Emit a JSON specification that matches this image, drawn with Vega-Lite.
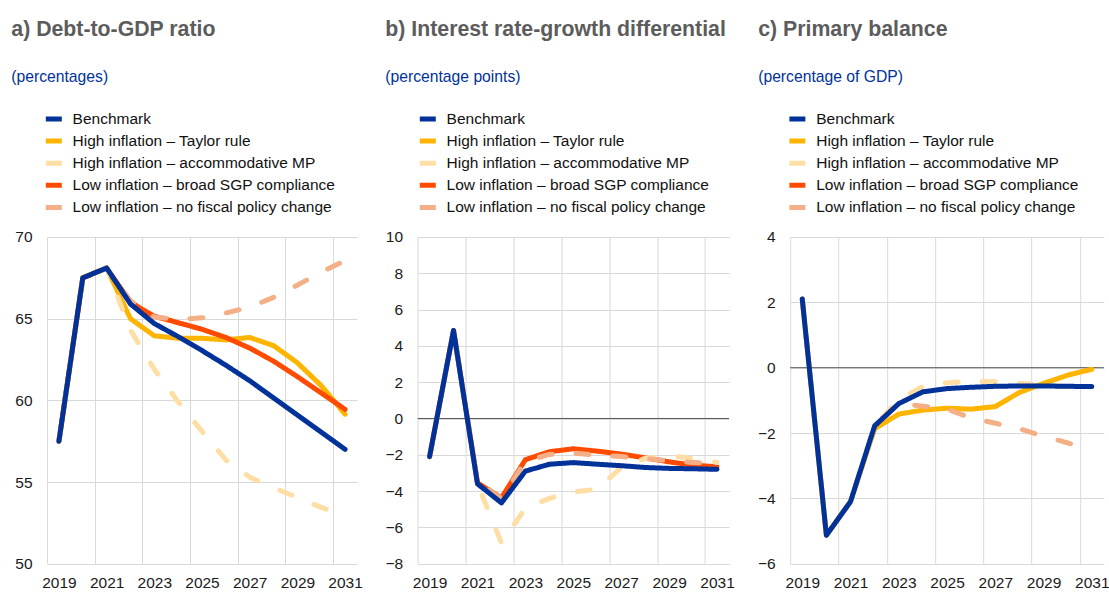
{
  "$schema": "https://vega.github.io/schema/vega-lite/v6.json",
  "background": "white",
  "padding": {"left": 11, "top": 19, "right": 0, "bottom": 0},
  "bounds": "flush",
  "spacing": 60.6,
  "config": {
    "font": "Liberation Sans",
    "view": {"stroke": null},
    "axis": {"labelFont": "Liberation Sans", "labelFontSize": 15.5, "labelColor": "#1a1a1a", "ticks": false, "domain": false, "gridColor": "#d9d9d9", "gridWidth": 1, "title": null, "labelOverlap": false},
    "legend": {"labelFont": "Liberation Sans", "labelFontSize": 15.5, "labelColor": "#111111", "labelLimit": 0, "symbolType": "stroke", "symbolSize": 256, "symbolStrokeWidth": 6, "symbolDash": [1, 0], "labelOffset": 8.3, "rowPadding": 3.1, "padding": 0, "title": null},
    "title": {"anchor": "start", "frame": "group", "font": "Liberation Sans", "fontSize": 21.3, "fontWeight": "bold", "color": "#5c5c5c", "subtitleFont": "Liberation Sans", "subtitleFontSize": 15.7, "subtitleColor": "#003299", "subtitlePadding": 29, "offset": 24},
    "line": {"strokeWidth": 5, "strokeCap": "round", "strokeJoin": "round"}
  },
  "data": {"values": [
    {"p":"a","s":"High inflation – Taylor rule","year":2019,"v":57.5},
    {"p":"a","s":"High inflation – Taylor rule","year":2020,"v":67.5},
    {"p":"a","s":"High inflation – Taylor rule","year":2021,"v":68.1},
    {"p":"a","s":"High inflation – Taylor rule","year":2022,"v":65.0},
    {"p":"a","s":"High inflation – Taylor rule","year":2023,"v":63.95},
    {"p":"a","s":"High inflation – Taylor rule","year":2024,"v":63.8},
    {"p":"a","s":"High inflation – Taylor rule","year":2025,"v":63.8},
    {"p":"a","s":"High inflation – Taylor rule","year":2026,"v":63.7},
    {"p":"a","s":"High inflation – Taylor rule","year":2027,"v":63.85},
    {"p":"a","s":"High inflation – Taylor rule","year":2028,"v":63.35},
    {"p":"a","s":"High inflation – Taylor rule","year":2029,"v":62.3},
    {"p":"a","s":"High inflation – Taylor rule","year":2030,"v":60.9},
    {"p":"a","s":"High inflation – Taylor rule","year":2031,"v":59.15},
    {"p":"a","s":"Low inflation – broad SGP compliance","year":2019,"v":57.5},
    {"p":"a","s":"Low inflation – broad SGP compliance","year":2020,"v":67.5},
    {"p":"a","s":"Low inflation – broad SGP compliance","year":2021,"v":68.1},
    {"p":"a","s":"Low inflation – broad SGP compliance","year":2022,"v":66.0},
    {"p":"a","s":"Low inflation – broad SGP compliance","year":2023,"v":65.15},
    {"p":"a","s":"Low inflation – broad SGP compliance","year":2024,"v":64.75},
    {"p":"a","s":"Low inflation – broad SGP compliance","year":2025,"v":64.35},
    {"p":"a","s":"Low inflation – broad SGP compliance","year":2026,"v":63.85},
    {"p":"a","s":"Low inflation – broad SGP compliance","year":2027,"v":63.2},
    {"p":"a","s":"Low inflation – broad SGP compliance","year":2028,"v":62.4},
    {"p":"a","s":"Low inflation – broad SGP compliance","year":2029,"v":61.45},
    {"p":"a","s":"Low inflation – broad SGP compliance","year":2030,"v":60.45},
    {"p":"a","s":"Low inflation – broad SGP compliance","year":2031,"v":59.45},
    {"p":"a","s":"High inflation – accommodative MP","year":2019,"v":57.5},
    {"p":"a","s":"High inflation – accommodative MP","year":2020,"v":67.5},
    {"p":"a","s":"High inflation – accommodative MP","year":2021,"v":68.1},
    {"p":"a","s":"High inflation – accommodative MP","year":2022,"v":64.3},
    {"p":"a","s":"High inflation – accommodative MP","year":2023,"v":61.9},
    {"p":"a","s":"High inflation – accommodative MP","year":2024,"v":59.9},
    {"p":"a","s":"High inflation – accommodative MP","year":2025,"v":58.1},
    {"p":"a","s":"High inflation – accommodative MP","year":2026,"v":56.35},
    {"p":"a","s":"High inflation – accommodative MP","year":2027,"v":55.3},
    {"p":"a","s":"High inflation – accommodative MP","year":2028,"v":54.65},
    {"p":"a","s":"High inflation – accommodative MP","year":2029,"v":54.05},
    {"p":"a","s":"High inflation – accommodative MP","year":2030,"v":53.45},
    {"p":"a","s":"High inflation – accommodative MP","year":2031,"v":52.9},
    {"p":"a","s":"Low inflation – no fiscal policy change","year":2019,"v":57.5},
    {"p":"a","s":"Low inflation – no fiscal policy change","year":2020,"v":67.5},
    {"p":"a","s":"Low inflation – no fiscal policy change","year":2021,"v":68.1},
    {"p":"a","s":"Low inflation – no fiscal policy change","year":2022,"v":66.1},
    {"p":"a","s":"Low inflation – no fiscal policy change","year":2023,"v":65.1},
    {"p":"a","s":"Low inflation – no fiscal policy change","year":2024,"v":64.95},
    {"p":"a","s":"Low inflation – no fiscal policy change","year":2025,"v":65.05},
    {"p":"a","s":"Low inflation – no fiscal policy change","year":2026,"v":65.35},
    {"p":"a","s":"Low inflation – no fiscal policy change","year":2027,"v":65.7},
    {"p":"a","s":"Low inflation – no fiscal policy change","year":2028,"v":66.3},
    {"p":"a","s":"Low inflation – no fiscal policy change","year":2029,"v":67.05},
    {"p":"a","s":"Low inflation – no fiscal policy change","year":2030,"v":67.85},
    {"p":"a","s":"Low inflation – no fiscal policy change","year":2031,"v":68.55},
    {"p":"a","s":"Benchmark","year":2019,"v":57.5},
    {"p":"a","s":"Benchmark","year":2020,"v":67.5},
    {"p":"a","s":"Benchmark","year":2021,"v":68.1},
    {"p":"a","s":"Benchmark","year":2022,"v":65.9},
    {"p":"a","s":"Benchmark","year":2023,"v":64.7},
    {"p":"a","s":"Benchmark","year":2024,"v":63.9},
    {"p":"a","s":"Benchmark","year":2025,"v":63.05},
    {"p":"a","s":"Benchmark","year":2026,"v":62.15},
    {"p":"a","s":"Benchmark","year":2027,"v":61.2},
    {"p":"a","s":"Benchmark","year":2028,"v":60.15},
    {"p":"a","s":"Benchmark","year":2029,"v":59.1},
    {"p":"a","s":"Benchmark","year":2030,"v":58.05},
    {"p":"a","s":"Benchmark","year":2031,"v":57.0},

    {"p":"b","s":"Low inflation – broad SGP compliance","year":2019,"v":-2.1},
    {"p":"b","s":"Low inflation – broad SGP compliance","year":2020,"v":4.85},
    {"p":"b","s":"Low inflation – broad SGP compliance","year":2021,"v":-3.55},
    {"p":"b","s":"Low inflation – broad SGP compliance","year":2022,"v":-4.37},
    {"p":"b","s":"Low inflation – broad SGP compliance","year":2023,"v":-2.27},
    {"p":"b","s":"Low inflation – broad SGP compliance","year":2024,"v":-1.83},
    {"p":"b","s":"Low inflation – broad SGP compliance","year":2025,"v":-1.67},
    {"p":"b","s":"Low inflation – broad SGP compliance","year":2026,"v":-1.8},
    {"p":"b","s":"Low inflation – broad SGP compliance","year":2027,"v":-1.96},
    {"p":"b","s":"Low inflation – broad SGP compliance","year":2028,"v":-2.17},
    {"p":"b","s":"Low inflation – broad SGP compliance","year":2029,"v":-2.39},
    {"p":"b","s":"Low inflation – broad SGP compliance","year":2030,"v":-2.57},
    {"p":"b","s":"Low inflation – broad SGP compliance","year":2031,"v":-2.66},
    {"p":"b","s":"High inflation – accommodative MP","year":2019,"v":-2.1},
    {"p":"b","s":"High inflation – accommodative MP","year":2020,"v":4.85},
    {"p":"b","s":"High inflation – accommodative MP","year":2021,"v":-3.6},
    {"p":"b","s":"High inflation – accommodative MP","year":2022,"v":-6.85},
    {"p":"b","s":"High inflation – accommodative MP","year":2023,"v":-4.95},
    {"p":"b","s":"High inflation – accommodative MP","year":2024,"v":-4.4},
    {"p":"b","s":"High inflation – accommodative MP","year":2025,"v":-4.05},
    {"p":"b","s":"High inflation – accommodative MP","year":2026,"v":-3.9},
    {"p":"b","s":"High inflation – accommodative MP","year":2027,"v":-2.7},
    {"p":"b","s":"High inflation – accommodative MP","year":2028,"v":-2.2},
    {"p":"b","s":"High inflation – accommodative MP","year":2029,"v":-2.05},
    {"p":"b","s":"High inflation – accommodative MP","year":2030,"v":-2.2},
    {"p":"b","s":"High inflation – accommodative MP","year":2031,"v":-2.42},
    {"p":"b","s":"Low inflation – no fiscal policy change","year":2019,"v":-2.1},
    {"p":"b","s":"Low inflation – no fiscal policy change","year":2020,"v":4.85},
    {"p":"b","s":"Low inflation – no fiscal policy change","year":2021,"v":-3.55},
    {"p":"b","s":"Low inflation – no fiscal policy change","year":2022,"v":-4.4},
    {"p":"b","s":"Low inflation – no fiscal policy change","year":2023,"v":-2.35},
    {"p":"b","s":"Low inflation – no fiscal policy change","year":2024,"v":-1.98},
    {"p":"b","s":"Low inflation – no fiscal policy change","year":2025,"v":-1.9},
    {"p":"b","s":"Low inflation – no fiscal policy change","year":2026,"v":-2.02},
    {"p":"b","s":"Low inflation – no fiscal policy change","year":2027,"v":-2.1},
    {"p":"b","s":"Low inflation – no fiscal policy change","year":2028,"v":-2.2},
    {"p":"b","s":"Low inflation – no fiscal policy change","year":2029,"v":-2.33},
    {"p":"b","s":"Low inflation – no fiscal policy change","year":2030,"v":-2.42},
    {"p":"b","s":"Low inflation – no fiscal policy change","year":2031,"v":-2.5},
    {"p":"b","s":"Benchmark","year":2019,"v":-2.1},
    {"p":"b","s":"Benchmark","year":2020,"v":4.85},
    {"p":"b","s":"Benchmark","year":2021,"v":-3.6},
    {"p":"b","s":"Benchmark","year":2022,"v":-4.65},
    {"p":"b","s":"Benchmark","year":2023,"v":-2.9},
    {"p":"b","s":"Benchmark","year":2024,"v":-2.52},
    {"p":"b","s":"Benchmark","year":2025,"v":-2.43},
    {"p":"b","s":"Benchmark","year":2026,"v":-2.52},
    {"p":"b","s":"Benchmark","year":2027,"v":-2.6},
    {"p":"b","s":"Benchmark","year":2028,"v":-2.7},
    {"p":"b","s":"Benchmark","year":2029,"v":-2.75},
    {"p":"b","s":"Benchmark","year":2030,"v":-2.77},
    {"p":"b","s":"Benchmark","year":2031,"v":-2.8},

    {"p":"c","s":"High inflation – Taylor rule","year":2019,"v":2.1},
    {"p":"c","s":"High inflation – Taylor rule","year":2020,"v":-5.13},
    {"p":"c","s":"High inflation – Taylor rule","year":2021,"v":-4.1},
    {"p":"c","s":"High inflation – Taylor rule","year":2022,"v":-1.87},
    {"p":"c","s":"High inflation – Taylor rule","year":2023,"v":-1.42},
    {"p":"c","s":"High inflation – Taylor rule","year":2024,"v":-1.3},
    {"p":"c","s":"High inflation – Taylor rule","year":2025,"v":-1.24},
    {"p":"c","s":"High inflation – Taylor rule","year":2026,"v":-1.27},
    {"p":"c","s":"High inflation – Taylor rule","year":2027,"v":-1.19},
    {"p":"c","s":"High inflation – Taylor rule","year":2028,"v":-0.76},
    {"p":"c","s":"High inflation – Taylor rule","year":2029,"v":-0.48},
    {"p":"c","s":"High inflation – Taylor rule","year":2030,"v":-0.23},
    {"p":"c","s":"High inflation – Taylor rule","year":2031,"v":-0.05},
    {"p":"c","s":"High inflation – accommodative MP","year":2019,"v":2.1},
    {"p":"c","s":"High inflation – accommodative MP","year":2020,"v":-5.13},
    {"p":"c","s":"High inflation – accommodative MP","year":2021,"v":-4.1},
    {"p":"c","s":"High inflation – accommodative MP","year":2022,"v":-1.78},
    {"p":"c","s":"High inflation – accommodative MP","year":2023,"v":-0.98},
    {"p":"c","s":"High inflation – accommodative MP","year":2024,"v":-0.58},
    {"p":"c","s":"High inflation – accommodative MP","year":2025,"v":-0.46},
    {"p":"c","s":"High inflation – accommodative MP","year":2026,"v":-0.42},
    {"p":"c","s":"High inflation – accommodative MP","year":2027,"v":-0.42},
    {"p":"c","s":"High inflation – accommodative MP","year":2028,"v":-0.48},
    {"p":"c","s":"High inflation – accommodative MP","year":2029,"v":-0.53},
    {"p":"c","s":"High inflation – accommodative MP","year":2030,"v":-0.58},
    {"p":"c","s":"High inflation – accommodative MP","year":2031,"v":-0.63},
    {"p":"c","s":"Low inflation – no fiscal policy change","year":2019,"v":2.1},
    {"p":"c","s":"Low inflation – no fiscal policy change","year":2020,"v":-5.13},
    {"p":"c","s":"Low inflation – no fiscal policy change","year":2021,"v":-4.1},
    {"p":"c","s":"Low inflation – no fiscal policy change","year":2022,"v":-1.8},
    {"p":"c","s":"Low inflation – no fiscal policy change","year":2023,"v":-1.1},
    {"p":"c","s":"Low inflation – no fiscal policy change","year":2024,"v":-1.18},
    {"p":"c","s":"Low inflation – no fiscal policy change","year":2025,"v":-1.27},
    {"p":"c","s":"Low inflation – no fiscal policy change","year":2026,"v":-1.54},
    {"p":"c","s":"Low inflation – no fiscal policy change","year":2027,"v":-1.7},
    {"p":"c","s":"Low inflation – no fiscal policy change","year":2028,"v":-1.87},
    {"p":"c","s":"Low inflation – no fiscal policy change","year":2029,"v":-2.1},
    {"p":"c","s":"Low inflation – no fiscal policy change","year":2030,"v":-2.3},
    {"p":"c","s":"Low inflation – no fiscal policy change","year":2031,"v":-2.55},
    {"p":"c","s":"Benchmark","year":2019,"v":2.1},
    {"p":"c","s":"Benchmark","year":2020,"v":-5.13},
    {"p":"c","s":"Benchmark","year":2021,"v":-4.1},
    {"p":"c","s":"Benchmark","year":2022,"v":-1.78},
    {"p":"c","s":"Benchmark","year":2023,"v":-1.1},
    {"p":"c","s":"Benchmark","year":2024,"v":-0.74},
    {"p":"c","s":"Benchmark","year":2025,"v":-0.64},
    {"p":"c","s":"Benchmark","year":2026,"v":-0.6},
    {"p":"c","s":"Benchmark","year":2027,"v":-0.57},
    {"p":"c","s":"Benchmark","year":2028,"v":-0.56},
    {"p":"c","s":"Benchmark","year":2029,"v":-0.56},
    {"p":"c","s":"Benchmark","year":2030,"v":-0.57},
    {"p":"c","s":"Benchmark","year":2031,"v":-0.58}
  ]},
  "hconcat": [
    {
      "width": 310,
      "height": 326.7,
      "title": {"text": "a) Debt-to-GDP ratio", "subtitle": "(percentages)", "dx": -35.7},
      "transform": [{"filter": "datum.p == 'a'"}],
      "mark": {"type": "line"},
      "encoding": {
        "x": {"field": "year", "type": "quantitative", "scale": {"domain": [2018.5, 2031.5], "nice": false, "zero": false},
              "axis": {"values": [2018.5, 2019, 2020.5, 2021, 2022.5, 2023, 2024.5, 2025, 2026.5, 2027, 2028.5, 2029, 2030.5, 2031], "format": "d", "labelExpr": "datum.value % 1 == 0 ? datum.label : ''", "labelFlush": false, "labelOverlap": false, "labelPadding": 12,
                       "gridColor": {"condition": {"test": "datum.value % 1 == 0", "value": "transparent"}, "value": "#d9d9d9"}}},
        "y": {"field": "v", "type": "quantitative", "scale": {"domain": [50, 70], "nice": false, "zero": false},
              "axis": {"values": [50, 55, 60, 65, 70], "labelPadding": 15, "labelOverlap": false}},
        "color": {"field": "s", "type": "nominal",
                  "scale": {"domain": ["Benchmark", "High inflation – Taylor rule", "High inflation – accommodative MP", "Low inflation – broad SGP compliance", "Low inflation – no fiscal policy change"], "range": ["#003299", "#ffb400", "#ffdea6", "#ff4b00", "#f5af87"]},
                  "legend": {"orient": "none", "legendX": -3.7, "legendY": -128.5,
                             "encode": {"symbols": {"size": {"value": 256}, "strokeWidth": {"value": 6}, "strokeDash": {"value": [1, 0]}, "strokeCap": {"value": "butt"}}}}},
        "strokeDash": {"condition": {"test": "datum.s == 'High inflation – accommodative MP' || datum.s == 'Low inflation – no fiscal policy change'", "value": [13, 24]}, "value": [1, 0]}
      }
    },
    {
      "width": 311.4,
      "height": 326.7,
      "title": {"text": "b) Interest rate-growth differential", "subtitle": "(percentage points)", "dx": -32.3},
      "transform": [{"filter": "datum.p == 'b'"}],
      "layer": [
        {
          "data": {"values": [{"zero": 0}]},
          "mark": {"type": "rule", "color": "#595959", "strokeWidth": 1},
          "encoding": {"y": {"field": "zero", "type": "quantitative", "scale": {"domain": [-8, 10], "nice": false, "zero": false},
                  "axis": {"values": [-8, -6, -4, -2, 0, 2, 4, 6, 8, 10], "labelPadding": 15, "labelOverlap": false}}}
        },
        {
          "mark": {"type": "line"},
          "encoding": {
            "x": {"field": "year", "type": "quantitative", "scale": {"domain": [2018.5, 2031.5], "nice": false, "zero": false},
                  "axis": {"values": [2018.5, 2019, 2020.5, 2021, 2022.5, 2023, 2024.5, 2025, 2026.5, 2027, 2028.5, 2029, 2030.5, 2031], "format": "d", "labelExpr": "datum.value % 1 == 0 ? datum.label : ''", "labelFlush": false, "labelOverlap": false, "labelPadding": 12,
                           "gridColor": {"condition": {"test": "datum.value % 1 == 0", "value": "transparent"}, "value": "#d9d9d9"}}},
            "y": {"field": "v", "type": "quantitative", "scale": {"domain": [-8, 10], "nice": false, "zero": false},
                  "axis": {"values": [-8, -6, -4, -2, 0, 2, 4, 6, 8, 10], "labelPadding": 15, "labelOverlap": false}},
            "color": {"field": "s", "type": "nominal",
                      "scale": {"domain": ["Benchmark", "High inflation – Taylor rule", "High inflation – accommodative MP", "Low inflation – broad SGP compliance", "Low inflation – no fiscal policy change"], "range": ["#003299", "#ffb400", "#ffdea6", "#ff4b00", "#f5af87"]},
                      "legend": {"orient": "none", "legendX": -0.3, "legendY": -128.5,
                                 "encode": {"symbols": {"size": {"value": 256}, "strokeWidth": {"value": 6}, "strokeDash": {"value": [1, 0]}, "strokeCap": {"value": "butt"}}}}},
            "strokeDash": {"condition": {"test": "datum.s == 'High inflation – accommodative MP' || datum.s == 'Low inflation – no fiscal policy change'", "value": [13, 24]}, "value": [1, 0]}
          }
        }
      ]
    },
    {
      "width": 313.7,
      "height": 326.7,
      "title": {"text": "c) Primary balance", "subtitle": "(percentage of GDP)", "dx": -32},
      "transform": [{"filter": "datum.p == 'c'"}],
      "layer": [
        {
          "data": {"values": [{"zero": 0}]},
          "mark": {"type": "rule", "color": "#595959", "strokeWidth": 1},
          "encoding": {"y": {"field": "zero", "type": "quantitative", "scale": {"domain": [-6, 4], "nice": false, "zero": false},
                  "axis": {"values": [-6, -4, -2, 0, 2, 4], "labelPadding": 15, "labelOverlap": false}}}
        },
        {
          "mark": {"type": "line"},
          "encoding": {
            "x": {"field": "year", "type": "quantitative", "scale": {"domain": [2018.5, 2031.5], "nice": false, "zero": false},
                  "axis": {"values": [2018.5, 2019, 2020.5, 2021, 2022.5, 2023, 2024.5, 2025, 2026.5, 2027, 2028.5, 2029, 2030.5, 2031], "format": "d", "labelExpr": "datum.value % 1 == 0 ? datum.label : ''", "labelFlush": false, "labelOverlap": false, "labelPadding": 12,
                           "gridColor": {"condition": {"test": "datum.value % 1 == 0", "value": "transparent"}, "value": "#d9d9d9"}}},
            "y": {"field": "v", "type": "quantitative", "scale": {"domain": [-6, 4], "nice": false, "zero": false},
                  "axis": {"values": [-6, -4, -2, 0, 2, 4], "labelPadding": 15, "labelOverlap": false}},
            "color": {"field": "s", "type": "nominal",
                      "scale": {"domain": ["Benchmark", "High inflation – Taylor rule", "High inflation – accommodative MP", "Low inflation – broad SGP compliance", "Low inflation – no fiscal policy change"], "range": ["#003299", "#ffb400", "#ffdea6", "#ff4b00", "#f5af87"]},
                      "legend": {"orient": "none", "legendX": -3.3, "legendY": -128.5,
                                 "encode": {"symbols": {"size": {"value": 256}, "strokeWidth": {"value": 6}, "strokeDash": {"value": [1, 0]}, "strokeCap": {"value": "butt"}}}}},
            "strokeDash": {"condition": {"test": "datum.s == 'High inflation – accommodative MP' || datum.s == 'Low inflation – no fiscal policy change'", "value": [13, 24]}, "value": [1, 0]}
          }
        }
      ]
    }
  ],
  "resolve": {"scale": {"color": "independent", "y": "independent", "x": "independent"}, "legend": {"color": "independent"}}
}
